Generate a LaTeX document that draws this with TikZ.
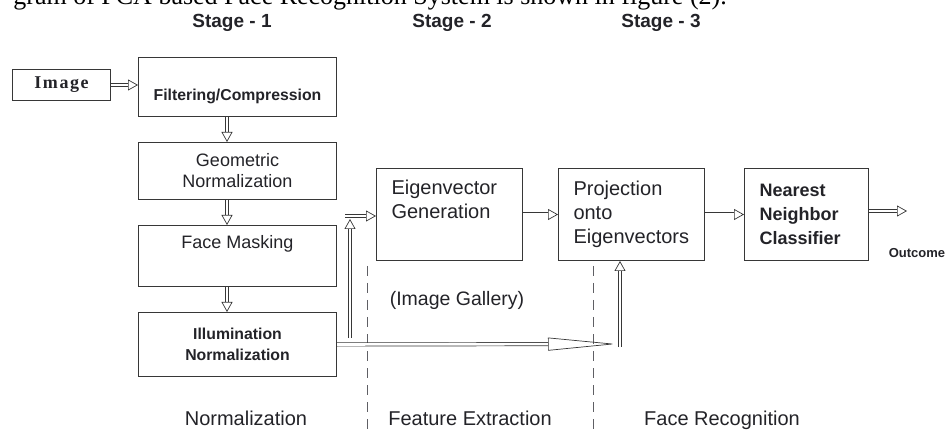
\documentclass[tikz,border=0pt]{standalone}
\usepackage{fontspec}
\setmainfont{Liberation Sans}
\newfontfamily\serifface{Liberation Serif}
\newfontfamily\imageface[LetterSpace=9]{Liberation Serif}
\usetikzlibrary{arrows.meta,positioning}

\definecolor{linecol}{RGB}{55,55,55}
\definecolor{textcol}{RGB}{35,35,40}
\definecolor{dashcol}{RGB}{95,95,100}

\tikzset{
  procbox/.style={draw=linecol, line width=1pt, inner sep=0pt, text=textcol},
  leftbox/.style={procbox, minimum width=198pt, align=center},
  rightbox/.style={procbox, minimum height=92pt, align=left, inner xsep=15pt},
  dblarrow/.style={draw=linecol, line width=0.7pt, double=white, double distance=2.6pt,
    -{Triangle[open, length=10pt, width=11pt]}},
  longarrow/.style={dblarrow, -{Triangle[open, length=68pt, width=13pt]}},
  stagelabel/.style={anchor=base, text=textcol, font=\bfseries\fontsize{19}{23}\selectfont},
  phaselabel/.style={anchor=base, text=textcol, font=\fontsize{20}{24}\selectfont},
  phaseline/.style={draw=dashcol, line width=0.9pt, dash pattern=on 10pt off 7pt},
}

\begin{document}
\begin{tikzpicture}[x=1pt, y=-1pt]
\useasboundingbox (0,0) rectangle (945,430);
\clip (0,0) rectangle (945,430);

% cut-off caption line above the figure
\node[anchor=base east, inner sep=0pt, font=\serifface\fontsize{26}{30}\selectfont] (caption) at (727,5)
  {gram of PCA based Face Recognition System is shown in figure (2).};

% stage headings
\node[stagelabel] (stage1) at (232,28) {Stage - 1};
\node[stagelabel] (stage2) at (452,28) {Stage - 2};
\node[stagelabel] (stage3) at (661,28) {Stage - 3};

% stage 1: normalization
\node[procbox, anchor=north west, minimum width=98pt, minimum height=31pt,
  font=\imageface\bfseries\fontsize{18}{22}\selectfont] (imgin) at (12,69) {Image};
\node[leftbox, anchor=north west, inner ysep=0pt, text height=43pt, text depth=16pt,
  font=\bfseries\fontsize{15.8}{21}\selectfont] (filt) at (138,57) {Filtering/Compression};
\node[leftbox, anchor=north west, minimum height=57pt,
  font=\fontsize{18}{21}\selectfont] (geom) at (138,142) {Geometric\\Normalization};
\node[leftbox, anchor=north west, inner ysep=0pt, text height=23pt, text depth=38pt,
  font=\fontsize{18}{21}\selectfont] (mask) at (138,225) {Face Masking};
\node[leftbox, anchor=north west, minimum height=64pt,
  font=\bfseries\fontsize{15.8}{21}\selectfont] (illum) at (138,312) {Illumination\\Normalization};

% stage 2 and 3
\node[rightbox, anchor=north west, text width=116pt,
  font=\fontsize{20}{24}\selectfont] (eigen) at (376,168) {Eigenvector\\Generation\\\strut};
\node[rightbox, anchor=north west, text width=116pt,
  font=\fontsize{20}{24}\selectfont] (proj) at (558,168) {Projection\\onto\\Eigenvectors};
\node[rightbox, anchor=north west, text width=94pt,
  font=\bfseries\fontsize{18}{24}\selectfont] (nn) at (744,168) {Nearest\\Neighbor\\Classifier};

\node[text=textcol, font=\bfseries\fontsize{13}{15}\selectfont] (outcome) at (917,253) {Outcome};
\node[text=textcol, font=\fontsize{19.5}{23}\selectfont] (gallery) at (457,300) {(Image Gallery)};

% phase separators and names
\draw[phaseline] (367,266) -- (367,430);
\draw[phaseline] (593,266) -- (593,430);
\node[phaselabel] (ph1) at (246,425) {Normalization};
\node[phaselabel] (ph2) at (470,425) {Feature Extraction};
\node[phaselabel] (ph3) at (722,425) {Face Recognition};

% helper points
\coordinate (colx) at (227,0);
\coordinate (outtip) at (907,211);
\coordinate (projfoot) at (616,344);
\coordinate (projbase) at (620,347);
\coordinate (galbase) at (350,338);
\coordinate (galtop) at (350,219);
\coordinate (galstart) at (345,216);

% connectors
\draw[dblarrow] (imgin.east) -- (imgin.east -| filt.west);
\draw[dblarrow] (filt.south -| colx) -- (geom.north -| colx);
\draw[dblarrow] (geom.south -| colx) -- (mask.north -| colx);
\draw[dblarrow] (mask.south -| colx) -- (illum.north -| colx);
\draw[dblarrow] (eigen.east) -- (proj.west);
\draw[dblarrow] (proj.east) -- (nn.west);
\draw[dblarrow] (nn.east |- outtip) -- (outtip);
\draw[longarrow] (illum.east) -- (projfoot);
\draw[dblarrow] (projbase) -- (proj.south -| projbase);
\draw[dblarrow] (galbase) -- (galtop);
\draw[dblarrow] (galstart) -- (galstart -| eigen.west);
\end{tikzpicture}
\end{document}
